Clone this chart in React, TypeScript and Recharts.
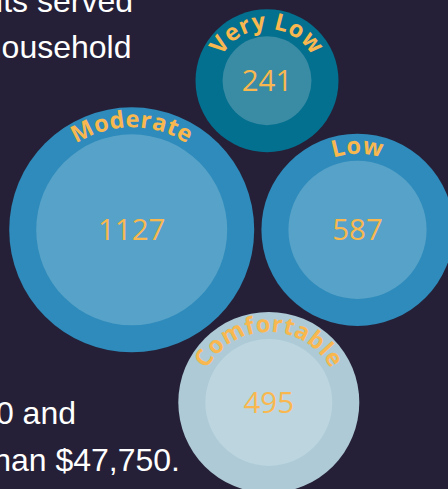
import { Scatter, ScatterChart, XAxis, YAxis, ZAxis } from "recharts";

// households by affordability level
const categories = ["Very Low", "Moderate", "Low", "Comfortable"];
const households = [241, 1127, 587, 495];
// packed-bubble layout, 0-100 units on each axis
const layoutX = [59.6, 29.4, 79.8, 60.0];
const layoutY = [83.5, 53.0, 53.0, 17.7];

// copy that runs in from the left of the page
const noteLines = ["its served", "household", "0 and", "than $47,750."];

const data = categories.map((name, i) => ({
  name,
  value: households[i],
  x: layoutX[i],
  y: layoutY[i],
}));

const BG = "#252037";
const LABEL = "#f9b84f";

const palette: Record<string, { outer: string; inner: string }> = {
  "Very Low": { outer: "#03708f", inner: "#3a8ba4" },
  Moderate: { outer: "#2e8bbb", inner: "#57a2c8" },
  Low: { outer: "#2e8bbb", inner: "#57a2c8" },
  Comfortable: { outer: "#aecad6", inner: "#bcd5df" },
};

function Bubble(props: any) {
  const { cx, cy, size, payload } = props;
  // ZAxis uses a sqrt scale whose range is the bubble radius
  const r = typeof size === "number" ? size : props.width / 2;
  const inner = r - 27;
  const rb = r - 20;
  const colors = palette[payload.name];
  const id = `arc-${payload.name.replace(/\s/g, "")}`;
  return (
    <g>
      <circle cx={cx} cy={cy} r={r} fill={colors.outer} />
      <circle cx={cx} cy={cy} r={inner} fill={colors.inner} />
      <defs>
        <path id={id} d={`M ${cx - rb} ${cy} A ${rb} ${rb} 0 0 1 ${cx + rb} ${cy}`} />
      </defs>
      <text
        fill={LABEL}
        fontFamily="'Open Sans', sans-serif"
        fontWeight={700}
        fontSize={23.5}
        letterSpacing={0.4}
      >
        <textPath href={`#${id}`} startOffset="50%" textAnchor="middle">
          {payload.name}
        </textPath>
      </text>
      <text
        x={cx}
        y={cy}
        dy={10.5}
        textAnchor="middle"
        fill={LABEL}
        fontFamily="'Open Sans', sans-serif"
        fontSize={29.5}
      >
        {payload.value}
      </text>
    </g>
  );
}

export default function App() {
  return (
    <div
      style={{
        position: "fixed",
        left: 0,
        top: 0,
        width: 448,
        height: 489,
        background: BG,
        overflow: "hidden",
      }}
    >
      <svg width={448} height={489} style={{ position: "absolute", left: 0, top: 0 }}>
        {[
          { x: 133, y: 12 },
          { x: 131.5, y: 58 },
          { x: 76, y: 424 },
          { x: 180, y: 471 },
        ].map((p, i) => (
          <text
            key={i}
            x={p.x}
            y={p.y}
            textAnchor="end"
            fill="#ffffff"
            fontFamily="'Liberation Sans', Arial, sans-serif"
            fontSize={32}
          >
            {noteLines[i]}
          </text>
        ))}
      </svg>
      <div style={{ position: "absolute", left: 0, top: 0 }}>
        <ScatterChart width={448} height={489} margin={{ top: 0, right: 0, bottom: 0, left: 0 }}>
          <XAxis type="number" dataKey="x" domain={[0, 100]} hide />
          <YAxis type="number" dataKey="y" domain={[0, 100]} hide />
          <ZAxis type="number" dataKey="value" scale="sqrt" domain={[0, 1127]} range={[27.6, 122.5]} />
          <Scatter data={data} shape={<Bubble />} isAnimationActive={false} />
        </ScatterChart>
      </div>
    </div>
  );
}
